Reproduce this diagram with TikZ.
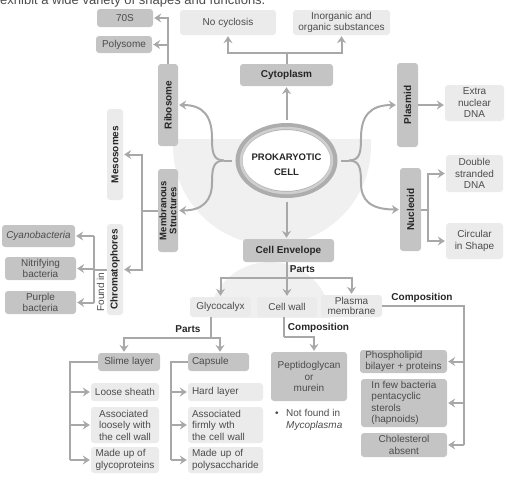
\documentclass[tikz,border=0pt]{standalone}
\usepackage{fontspec}
\setmainfont{Liberation Sans}
\usetikzlibrary{arrows.meta,shapes.geometric,calc}
\definecolor{dk}{HTML}{C4C4C4}
\definecolor{lt}{HTML}{EBEBEB}
\definecolor{bgc}{HTML}{F0F0F0}
\definecolor{lnc}{HTML}{A8A8A8}
\definecolor{txt}{HTML}{4C4C4C}
\definecolor{btxt}{HTML}{262626}
\definecolor{ringA}{HTML}{ADADAD}
\definecolor{ringB}{HTML}{CFCFCF}
\tikzset{
 box/.style={rounded corners=3pt, inner sep=0pt, align=center, text=txt, font=\fontsize{10}{11.5}\selectfont},
 dbox/.style={box, fill=dk},
 lbox/.style={box, fill=lt},
 bld/.style={font=\fontsize{10}{11}\selectfont\bfseries, text=btxt},
 lbl/.style={font=\fontsize{10}{11}\selectfont\bfseries, text=btxt, inner sep=0pt},
 ln/.style={draw=lnc, line width=2pt},
 arr/.style={ln, -{Stealth[length=7pt,width=9pt,inset=2.5pt]}, shorten >=1pt},
}
\begin{document}
\begin{tikzpicture}[x=1pt,y=-1pt]
\useasboundingbox (0,0) rectangle (528,477);
\begin{scope}
\clip (0,0) rectangle (528,477);
\node[anchor=base west, inner sep=0pt, font=\fontsize{13}{14}\selectfont, text=txt] (cap) at (0,4.5) {exhibit a wide variety of shapes and functions.};
\end{scope}
% backgrounds
\begin{scope}
\clip (150,139) rectangle (400,262);
\fill[bgc] (272,146) circle[radius=99pt];
\end{scope}
\begin{scope}
\clip (200,250) rectangle (340,317);
\fill[bgc] (270,318) ellipse[x radius=60pt, y radius=56pt];
\end{scope}
% cell
\node[ellipse, minimum width=95pt, minimum height=68pt, draw=ringA, line width=7pt, fill=white, inner sep=0pt] (cell) at (286.5,160.5) {};
\draw[ringB, line width=2.5pt] (286.5,160.5) ellipse[x radius=45.5pt, y radius=32.5pt];
\node[lbl, align=center, font=\fontsize{9.5}{15}\selectfont\bfseries] (celltxt) at (286.5,164.5) {PROKARYOTIC\\CELL};
% nodes
\node[dbox, minimum width=56pt, minimum height=18pt] (n70s) at (125,18) {70S};
\node[dbox, minimum width=56pt, minimum height=17pt] (npoly) at (124,44.5) {Polysome};
\node[dbox, bld, rotate=90, minimum width=82pt, minimum height=20pt] (nribo) at (168,105) {Ribosome};
\node[lbox, minimum width=96pt, minimum height=25pt] (nnocyc) at (228,22.5) {No cyclosis};
\node[lbox, minimum width=97pt, minimum height=25pt] (ninorg) at (341.5,22.5) {Inorganic and\\organic substances};
\node[dbox, bld, minimum width=93pt, minimum height=22pt] (ncyto) at (286.5,75) {Cytoplasm};
\node[dbox, bld, rotate=90, minimum width=84pt, minimum height=21pt] (nplas) at (407.5,105) {Plasmid};
\node[lbox, minimum width=59pt, minimum height=36pt] (nextra) at (474.5,103) {Extra\\nuclear\\DNA};
\node[dbox, bld, rotate=90, minimum width=83pt, minimum height=20pt, font=\fontsize{9.5}{10}\selectfont\bfseries] (nmemb) at (168,210.5) {Membranous\\Structures};
\node[lbox, bld, rotate=90, minimum width=91pt, minimum height=16pt] (nmeso) at (115,154.5) {Mesosomes};
\node[lbox, bld, rotate=90, minimum width=91pt, minimum height=16pt] (nchrom) at (115,269.5) {Chromatophores};
\node[inner sep=0pt, rotate=90, text=txt, font=\fontsize{10}{11}\selectfont] (nfound) at (100.5,292) {Found in};
\node[dbox, font=\fontsize{10}{11.5}\selectfont\itshape, minimum width=73pt, minimum height=22pt] (ncyano) at (38.5,236) {Cyanobacteria};
\node[dbox, minimum width=71pt, minimum height=23pt] (nnitri) at (40.5,268.5) {Nitrifying\\bacteria};
\node[dbox, minimum width=71pt, minimum height=23pt] (npurple) at (40.5,302.5) {Purple\\bacteria};
\node[dbox, bld, rotate=90, minimum width=83pt, minimum height=21pt] (nnucl) at (410.5,209.5) {Nucleoid};
\node[lbox, minimum width=57pt, minimum height=37pt] (ndouble) at (474.5,173.5) {Double\\stranded\\DNA};
\node[lbox, minimum width=57pt, minimum height=36pt] (ncirc) at (474.5,241) {Circular\\in Shape};
\node[dbox, bld, minimum width=91pt, minimum height=23pt] (nenv) at (288.5,250.5) {Cell Envelope};
\node[lbl] (lparts1) at (302.5,269) {Parts};
\node[lbox, minimum width=61pt, minimum height=20pt] (nglyco) at (220.5,307) {Glycocalyx};
\node[lbox, minimum width=60pt, minimum height=20pt] (nwall) at (287,307) {Cell wall};
\node[lbox, minimum width=61pt, minimum height=22pt, font=\fontsize{10}{10.5}\selectfont] (nplasma) at (351.5,306) {Plasma\\membrane};
\node[lbl] (lcomp1) at (422,297.5) {Composition};
\node[lbl] (lcomp2) at (318.5,328) {Composition};
\node[lbl] (lparts2) at (188,329) {Parts};
\node[dbox, minimum width=76pt, minimum height=49pt] (npept) at (309,376.5) {Peptidoglycan\\or\\murein};
\node[inner sep=0pt, align=left, anchor=north west, text=txt, font=\fontsize{10}{12}\selectfont] (nnot) at (275,409.5) {\makebox[11pt][l]{\textbullet}Not found in\\\hspace*{11pt}\textit{Mycoplasma}};
\node[dbox, minimum width=87pt, minimum height=23pt, align=left] (nphos) at (403.5,361.5) {Phospholipid\\bilayer + proteins};
\node[dbox, minimum width=86pt, minimum height=48pt, align=left] (nfew) at (404,403) {In few bacteria\\pentacyclic\\sterols\\(hapnoids)};
\node[dbox, minimum width=86pt, minimum height=24pt] (nchol) at (404,445) {Cholesterol\\absent};
\node[dbox, minimum width=62pt, minimum height=18pt] (nslime) at (129,362) {Slime layer};
\node[dbox, minimum height=18pt, text width=53pt, inner xsep=4pt, align=left] (ncaps) at (218.5,362) {Capsule};
\node[lbox, minimum width=68pt, minimum height=18pt] (nloose) at (125,392) {Loose sheath};
\node[lbox, minimum width=68pt, minimum height=36pt, align=left] (nassoc1) at (125,425) {Associated\\loosely with\\the cell wall};
\node[lbox, minimum width=68pt, minimum height=26pt, align=left] (nmade1) at (125,460) {Made up of\\glycoproteins};
\node[lbox, text width=67pt, inner xsep=4pt, minimum height=18pt, align=left] (nhard) at (225.5,392) {Hard layer};
\node[lbox, text width=67pt, inner xsep=4pt, minimum height=36pt, align=left] (nassoc2) at (225.5,425) {Associated\\firmly wth\\the cell wall};
\node[lbox, text width=67pt, inner xsep=4pt, minimum height=26pt, align=left] (nmade2) at (225.5,460) {Made up of\\polysaccharide};
% connectors: ribosome
\draw[arr] (nribo.east) |- (n70s.east);
\draw[arr] (nribo.east) |- (npoly.east);
% cytoplasm
\coordinate (cj) at (286.5,53);
\draw[ln] (ncyto.north) -- (cj);
\draw[arr] (cj) -| (nnocyc.south);
\draw[arr] (cj) -| (ninorg.south);
% cell up / down
\draw[arr, shorten <=3.5pt] (cell.north) -- (ncyto.south);
\draw[arr, shorten <=3.5pt] (cell.south) -- (cell.south |- nenv.north);
% left branches
\coordinate (lj) at (224,160.5);
\draw[ln, shorten <=3.5pt] (cell.west) -- (lj);
\draw[arr] (lj) .. controls (213,160.5) and (212,152) .. (212,138) .. controls (212,116) and (203,105) .. (nribo.south);
\draw[arr] (lj) .. controls (213,160.5) and (212,169) .. (212,183) .. controls (212,200) and (203,210.5) .. (nmemb.south);
% right branches
\coordinate (rj) at (349,160.5);
\draw[ln, shorten <=3.5pt] (cell.east) -- (rj);
\draw[arr] (rj) .. controls (360,160.5) and (361,152) .. (361,138) .. controls (361,116) and (370,105) .. (nplas.north);
\draw[arr] (rj) .. controls (360,160.5) and (361,169) .. (361,183) .. controls (361,200) and (370,209.5) .. (nnucl.north);
% plasmid
\draw[arr] (nplas.south) -- (nplas.south -| nextra.west);
% nucleoid
\coordinate (nj) at (428,209.5);
\draw[ln] (nnucl.south) -- (nj);
\draw[arr] (nj) |- (ndouble.west);
\draw[arr] (nj) |- (ncirc.west);
% membranous
\coordinate (mj) at (142,210.5);
\draw[ln] (nmemb.north) -- (mj);
\draw[arr] (mj) |- (nmeso.south);
\draw[arr] (mj) |- (nchrom.south);
% chromatophores
\coordinate (hj) at (94,268);
\draw[ln] (nchrom.north) -- (nchrom.north -| hj);
\draw[ln] (hj |- ncyano.east) -- (hj |- npurple.east);
\draw[arr] (hj |- ncyano.east) -- (ncyano.east);
\draw[arr] (hj |- nnitri.east) -- (nnitri.east);
\draw[arr] (hj |- npurple.east) -- (npurple.east);
% envelope
\coordinate (ej) at (287,278);
\draw[ln] (nenv.south -| ej) -- (ej);
\draw[arr] (ej) -- (nwall.north);
\draw[arr] (ej) -| (nglyco.north);
\draw[arr] (ej) -| (nplasma.north);
% glycocalyx
\coordinate (gj) at (211,338);
\draw[ln] (nglyco.south -| gj) -- (gj);
\draw[arr] (gj) -| ([xshift=-5pt]nslime.north);
\draw[arr] (gj) -| ([xshift=1.5pt]ncaps.north);
% slime
\coordinate (sb) at (70,362);
\draw[ln] (nslime.west) -- (sb) -- (sb |- nmade1.west);
\draw[arr] (sb |- nloose.west) -- (nloose.west);
\draw[arr] (sb |- nassoc1.west) -- (nassoc1.west);
\draw[arr] (sb |- nmade1.west) -- (nmade1.west);
% capsule
\coordinate (cb) at (171,362);
\draw[ln] (ncaps.west) -- (cb) -- (cb |- nmade2.west);
\draw[arr] (cb |- nhard.west) -- (nhard.west);
\draw[arr] (cb |- nassoc2.west) -- (nassoc2.west);
\draw[arr] (cb |- nmade2.west) -- (nmade2.west);
% cell wall
\coordinate (wj) at (284,337);
\draw[ln] (nwall.south -| wj) -- (wj);
\draw[arr] (wj) -| ([xshift=5pt]npept.north);
% plasma membrane
\coordinate (pj) at (464,306);
\draw[ln] (nplasma.east) -- (pj) -- (pj |- nchol.east);
\draw[arr] (pj |- nphos.east) -- (nphos.east);
\draw[arr] (pj |- nfew.east) -- (nfew.east);
\draw[arr] (pj |- nchol.east) -- (nchol.east);
\end{tikzpicture}
\end{document}
